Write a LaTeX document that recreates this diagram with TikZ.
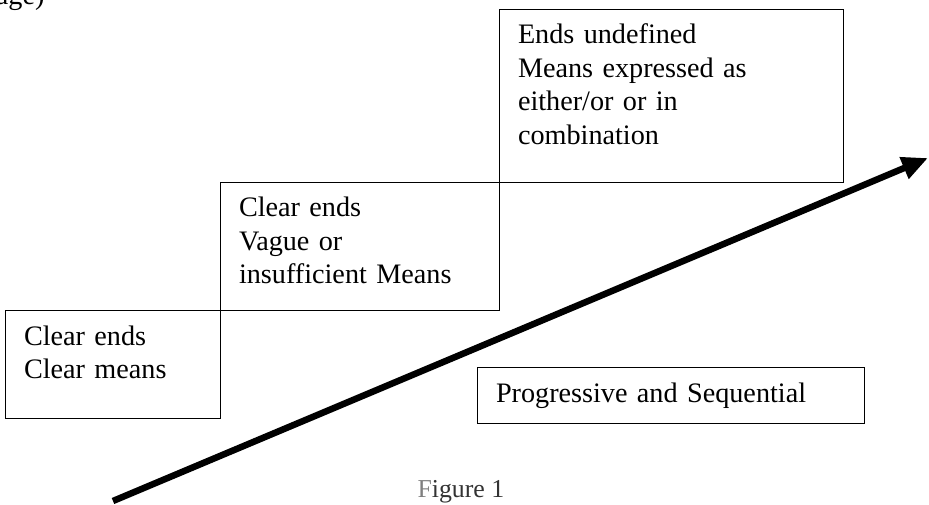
\documentclass[tikz,border=0pt]{standalone}
\usepackage{fontspec}
\setmainfont{Liberation Serif}
\usetikzlibrary{arrows.meta}
\tikzset{
    stagebox/.style={draw, line width=0.9pt, anchor=north west, align=left,
        inner xsep=19pt, inner ysep=0pt, outer sep=0pt, text height=35pt,
        font=\fontsize{28.2}{33.5}\selectfont},
}
\begin{document}
\begin{tikzpicture}[x=1pt, y=1pt]
    \path[use as bounding box, clip] (0, 0) rectangle (929, 504);
        \node[anchor=base east, font=\fontsize{28.2}{33.5}\selectfont] (pagetail) at (48, 499) {age)};
    % the three steps
    \node[stagebox, text width=177pt, text depth=73pt] (clear) at (5, 194) {Clear ends\\Clear means};
    \node[stagebox, text width=241pt, text depth=93pt] (vague) at (220, 322) {Clear ends\\Vague or\\insufficient Means};
    \node[stagebox, text width=306pt, text depth=138pt] (undef) at (499, 495) {Ends undefined\\Means expressed as\\either/or or in\\combination};
    \node[stagebox, text width=349pt, text depth=21pt] (progress) at (477, 137) {Progressive and Sequential};
    % the rising arrow
    \coordinate (start) at (113, 3);
    \coordinate (finish) at (928, 346);
        \draw[line width=6.5pt, -{Triangle[length=26pt, width=22pt]}] (start) -- (finish);
    \node[anchor=base west, font=\fontsize{25.8}{30}\selectfont, text=black!80] (caption) at (414, 7) {{\color{gray}F}igure 1};
\end{tikzpicture}
\end{document}
